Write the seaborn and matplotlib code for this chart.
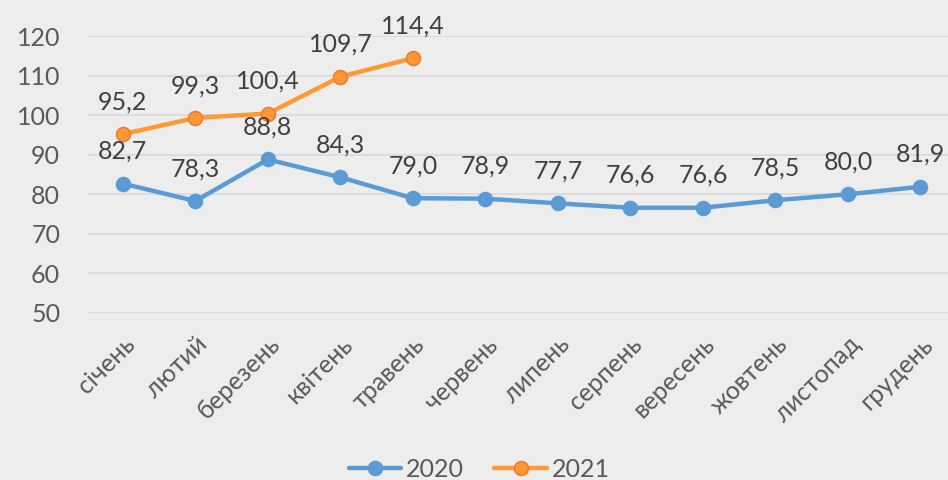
import pandas as pd
import seaborn as sns
import matplotlib.pyplot as plt

months = ['січень', 'лютий', 'березень', 'квітень', 'травень', 'червень',
          'липень', 'серпень', 'вересень', 'жовтень', 'листопад', 'грудень']
y2020 = [82.7, 78.3, 88.8, 84.3, 79.0, 78.9, 77.7, 76.6, 76.6, 78.5, 80.0, 81.9]
y2021 = [95.2, 99.3, 100.4, 109.7, 114.4]

bg = '#EDEDED'
sns.set_style('white', {'axes.facecolor': bg, 'figure.facecolor': bg})
plt.rcParams['font.family'] = ['Lato', 'DejaVu Sans']

rows = [(m, v, '2020') for m, v in zip(months, y2020)]
rows += [(m, v, '2021') for m, v in zip(months, y2021)]
df = pd.DataFrame(rows, columns=['month', 'value', 'year'])
df['pos'] = df['month'].map({m: i for i, m in enumerate(months)})

colors = {'2020': '#5B9BD5', '2021': '#FF9933'}
edges = {'2020': '#5B9BD5', '2021': '#ED7D31'}

fig = plt.figure(figsize=(9.48, 4.8), dpi=100)
ax = fig.add_axes([88 / 948, 1 - 313 / 480, 860 / 948, 277 / 480])

for yr in ['2020', '2021']:
    sub = df[df['year'] == yr]
    sns.lineplot(data=sub, x='pos', y='value', ax=ax, color=colors[yr], lw=3.2,
                 marker='o', markersize=10, markeredgecolor=edges[yr],
                 markeredgewidth=1.2, label=yr)
    for x, v in zip(sub['pos'], sub['value']):
        ax.annotate(f'{v:.1f}'.replace('.', ','), (x, v), xytext=(0, 15),
                    textcoords='offset points', ha='center', va='bottom',
                    fontsize=18, color='#404040')

ax.set_xlim(-0.48, 11.38)
ax.set_ylim(50, 120)
ax.set_yticks(range(50, 121, 10))
ax.yaxis.grid(True, color='#D9D9D9', lw=1.2)
ax.set_axisbelow(True)
ax.set_xticks(range(len(months)))
ax.set_xticklabels(months, rotation=45, ha='right', rotation_mode='anchor')
ax.tick_params(axis='both', labelsize=18, labelcolor='#595959', length=0)
ax.tick_params(axis='x', pad=14)
ax.tick_params(axis='y', pad=20)
ax.set_xlabel('')
ax.set_ylabel('')
for s in ax.spines.values():
    s.set_visible(False)

ax.legend(loc='center', bbox_to_anchor=(0.455, -0.565), ncol=2, frameon=False,
          fontsize=18, labelcolor='#595959', handlelength=2.1, columnspacing=1.2,
          handletextpad=0.2)

fig.savefig('out.png', dpi=100, facecolor=bg)
